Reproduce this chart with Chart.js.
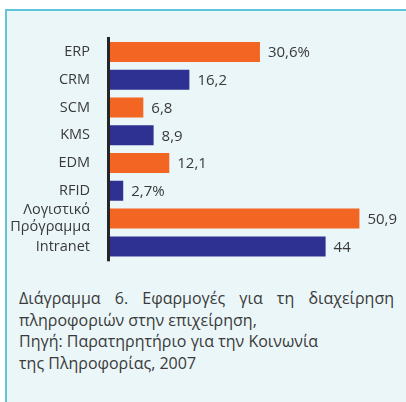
<!DOCTYPE html>
<html><head><meta charset="utf-8">
<script src="https://cdn.jsdelivr.net/npm/chart.js@4"></script>
<style>
html,body{margin:0;padding:0;background:#fff;width:406px;height:402px;overflow:hidden;}
#panel{position:absolute;left:5px;top:9px;width:430px;height:430px;border:2px solid #62c4dc;background:#eaf6f8;}
#wrap{position:absolute;left:0;top:0;width:406px;height:281px;}
#cap{position:absolute;left:19px;top:288px;width:375px;font-family:"Open Sans",sans-serif;font-size:16px;line-height:21.5px;color:#3a3a3a;}
#cap div{white-space:nowrap;}
#cap .j{text-align:justify;text-align-last:justify;white-space:normal;}
</style></head><body>
<div id="panel"></div>
<div id="wrap"><canvas id="c" width="406" height="281"></canvas></div>
<div id="cap">
<div class="j">Διάγραμμα 6. Εφαρμογές για τη διαχείρηση</div>
<div>πληροφοριών στην επιχείρηση,</div>
<div>Πηγή: Παρατηρητήριο για την Κοινωνία</div>
<div>της Πληροφορίας, 2007</div>
</div>
<script>
const categories = ['ERP','CRM','SCM','KMS','EDM','RFID',['Λογιστικό','Πρόγραμμα'],'Intranet'];
const values = [30.6,16.2,6.8,8.9,12.1,2.7,50.9,44];
const valueLabels = ['30,6%','16,2','6,8','8,9','12,1','2,7%','50,9','44'];
const barColors = ['#f26522','#2e3192','#f26522','#2e3192','#f26522','#2e3192','#f26522','#2e3192'];

const valuePlugin = {
  id:'vals',
  afterDraw(chart){
    const ctx = chart.ctx;
    const meta = chart.getDatasetMeta(0);
    const a = chart.chartArea;
    ctx.save();
    ctx.fillStyle = '#262626';
    ctx.fillRect(a.left - 3, a.top - 1, 3, a.bottom - a.top + 2);
    ctx.font = '15px "Open Sans", sans-serif';
    ctx.fillStyle = '#3a3a3a';
    ctx.textBaseline = 'middle';
    ctx.textAlign = 'left';
    meta.data.forEach((bar,i)=>{
      ctx.fillText(valueLabels[i], bar.x + 8, bar.y + 1);
    });
    ctx.restore();
  }
};

new Chart(document.getElementById('c'), {
  type:'bar',
  data:{labels:categories, datasets:[{data:values, backgroundColor:barColors, barPercentage:0.72, categoryPercentage:1}]},
  options:{
    indexAxis:'y',
    responsive:false,
    animation:false,
    events:[],
    layout:{padding:{top:38,bottom:12,right:2,left:0}},
    plugins:{legend:{display:false},tooltip:{enabled:false}},
    scales:{
      x:{display:false,min:0,max:60},
      y:{
        afterFit(s){ s.width = 110; },
        grid:{display:false},
        border:{display:false},
        ticks:{autoSkip:false,padding:12,color:'#3a3a3a',font:{family:'"Open Sans", sans-serif',size:14.5}}
      }
    }
  },
  plugins:[valuePlugin]
});
</script>
</body></html>
